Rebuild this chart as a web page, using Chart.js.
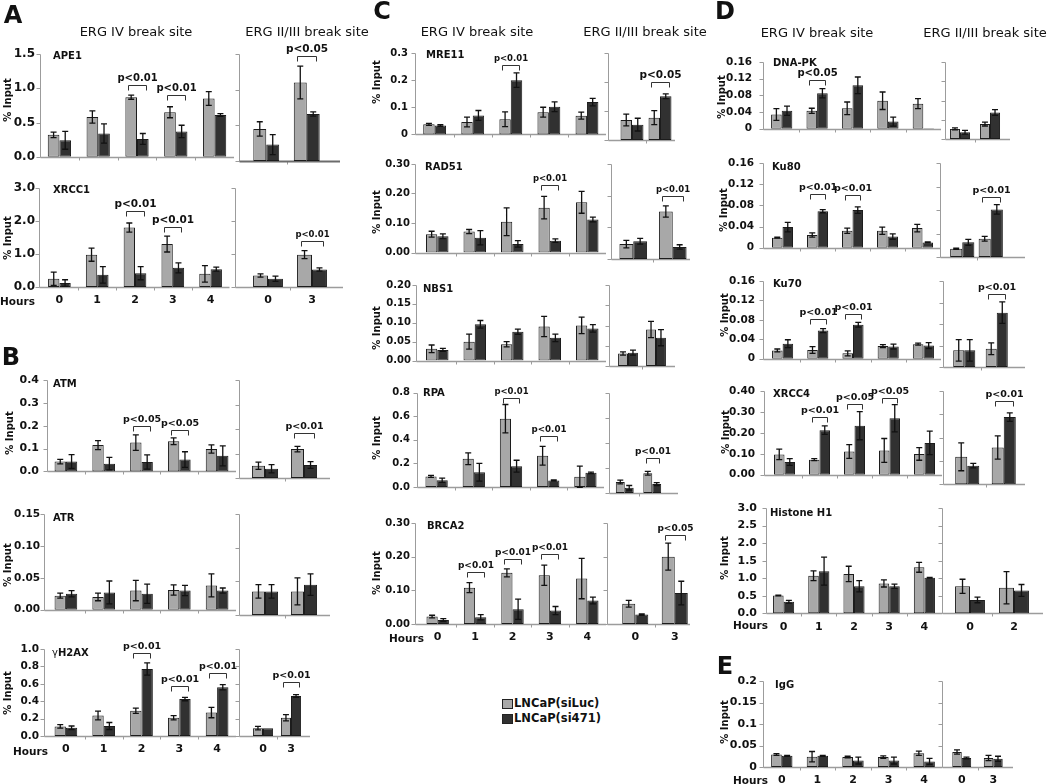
<!DOCTYPE html>
<html>
<head>
<meta charset="utf-8">
<script src="https://cdn.jsdelivr.net/npm/chart.js@4.4.1/dist/chart.umd.min.js"></script>
<style>
  body { margin: 0; background: #fff; }
  #fig { position: relative; width: 1050px; height: 784px; overflow: hidden; font-family: "DejaVu Sans", Verdana, sans-serif; color: #111; }
  #fig canvas { position: absolute; }
  .t { position: absolute; white-space: nowrap; line-height: 1; }
  .c { transform: translate(-50%, -50%); }
  .l { transform: translate(0, -50%); }
  .v { transform: translate(-50%, -50%) rotate(-90deg); font-weight: bold; font-size: 10px; }
  .letter { font-weight: bold; font-size: 24px; }
  .title { font-size: 13px; }
  .prot { font-weight: bold; font-size: 10px; }
  .hrs { font-weight: bold; font-size: 10.5px; }
  .leg { font-weight: bold; font-size: 11.5px; }
  .sw { position: absolute; width: 9px; height: 8px; border: 1px solid #222; }
</style>
</head>
<body>
<div id="fig"></div>
<script>
// categories: hours after treatment, ERG IV site (5) then ERG II/III site (2)
const hoursIV = ['0', '1', '2', '3', '4'];
const hoursII = ['0', '3'];
const hoursIIH1 = ['0', '2'];

// each series: 5 values for ERG IV, then 2 for ERG II/III
const APE1_luc    = [0.32, 0.58, 0.87, 0.65, 0.85, 0.45, 1.10];
const APE1_lucErr = [0.04, 0.09, 0.03, 0.08, 0.10, 0.10, 0.23];
const APE1_si     = [0.24, 0.34, 0.26, 0.37, 0.61, 0.23, 0.66];
const APE1_siErr  = [0.13, 0.14, 0.08, 0.09, 0.02, 0.14, 0.03];
const APE1_p      = [[2, 1.05, 'p<0.01'], [3, 0.90, 'p<0.01'], [6, 1.47, 'p<0.05']];
const APE1_ticks  = ['0.0', '0.5', '1.0', '1.5'];

const XRCC1_luc    = [0.25, 0.98, 1.80, 1.30, 0.40, 0.35, 0.98];
const XRCC1_lucErr = [0.20, 0.20, 0.14, 0.24, 0.25, 0.05, 0.12];
const XRCC1_si     = [0.12, 0.37, 0.42, 0.58, 0.54, 0.25, 0.53];
const XRCC1_siErr  = [0.10, 0.25, 0.20, 0.15, 0.06, 0.08, 0.05];
const XRCC1_p      = [[2, 2.30, 'p<0.01'], [3, 1.83, 'p<0.01'], [6, 1.40, 'p<0.01']];
const XRCC1_ticks  = ['0.0', '1.0', '2.0', '3.0'];

const ATM_luc    = [0.043, 0.115, 0.126, 0.132, 0.098, 0.050, 0.118];
const ATM_lucErr = [0.010, 0.020, 0.034, 0.015, 0.018, 0.015, 0.011];
const ATM_si     = [0.043, 0.034, 0.041, 0.052, 0.068, 0.038, 0.053];
const ATM_siErr  = [0.030, 0.027, 0.031, 0.034, 0.044, 0.017, 0.014];
const ATM_p      = [[2, 0.200, 'p<0.05'], [3, 0.183, 'p<0.05'], [6, 0.183, 'p<0.01']];
const ATM_ticks  = ['0.0', '0.1', '0.2', '0.3', '0.4'];

const ATR_luc    = [0.022, 0.020, 0.030, 0.031, 0.038, 0.035, 0.035];
const ATR_lucErr = [0.004, 0.006, 0.016, 0.008, 0.018, 0.010, 0.020];
const ATR_si     = [0.025, 0.027, 0.025, 0.030, 0.030, 0.035, 0.045];
const ATR_siErr  = [0.005, 0.018, 0.015, 0.008, 0.004, 0.010, 0.016];
const ATR_p      = [];
const ATR_ticks  = ['0.00', '0.05', '0.10', '0.15'];

const H2AX_luc    = [0.110, 0.235, 0.290, 0.210, 0.270, 0.090, 0.210];
const H2AX_lucErr = [0.020, 0.050, 0.030, 0.025, 0.060, 0.020, 0.035];
const H2AX_si     = [0.095, 0.115, 0.770, 0.425, 0.560, 0.090, 0.460];
const H2AX_siErr  = [0.020, 0.040, 0.070, 0.020, 0.030, 0.000, 0.015];
const H2AX_p      = [[2, 0.95, 'p<0.01'], [3, 0.57, 'p<0.01'], [4, 0.72, 'p<0.01'], [6, 0.62, 'p<0.01']];
const H2AX_ticks  = ['0.0', '0.2', '0.4', '0.6', '0.8', '1.0'];

const MRE11_luc    = [0.037, 0.046, 0.056, 0.082, 0.069, 0.069, 0.077];
const MRE11_lucErr = [0.004, 0.018, 0.027, 0.018, 0.013, 0.020, 0.024];
const MRE11_si     = [0.033, 0.070, 0.200, 0.102, 0.119, 0.053, 0.151];
const MRE11_siErr  = [0.003, 0.018, 0.027, 0.018, 0.014, 0.022, 0.008];
const MRE11_p      = [[2, 0.254, 'p<0.01'], [6, 0.200, 'p<0.05']];
const MRE11_ticks  = ['0', '0.1', '0.2', '0.3'];

const RAD51_luc    = [0.062, 0.071, 0.104, 0.152, 0.170, 0.047, 0.150];
const RAD51_lucErr = [0.010, 0.007, 0.047, 0.038, 0.037, 0.012, 0.018];
const RAD51_si     = [0.055, 0.050, 0.029, 0.040, 0.112, 0.056, 0.038];
const RAD51_siErr  = [0.008, 0.024, 0.011, 0.006, 0.008, 0.009, 0.007];
const RAD51_p      = [[3, 0.228, 'p<0.01'], [6, 0.200, 'p<0.01']];
const RAD51_ticks  = ['0.00', '0.10', '0.20', '0.30'];

const NBS1_luc    = [0.031, 0.050, 0.043, 0.090, 0.093, 0.031, 0.090];
const NBS1_lucErr = [0.010, 0.020, 0.007, 0.027, 0.022, 0.004, 0.020];
const NBS1_si     = [0.028, 0.096, 0.076, 0.060, 0.085, 0.033, 0.070];
const NBS1_siErr  = [0.004, 0.010, 0.007, 0.010, 0.010, 0.006, 0.020];
const NBS1_p      = [];
const NBS1_ticks  = ['0.00', '0.05', '0.10', '0.15', '0.20'];

const RPA_luc    = [0.090, 0.240, 0.580, 0.265, 0.087, 0.087, 0.158];
const RPA_lucErr = [0.008, 0.050, 0.120, 0.080, 0.090, 0.015, 0.015];
const RPA_si     = [0.057, 0.125, 0.177, 0.055, 0.120, 0.042, 0.071];
const RPA_siErr  = [0.018, 0.075, 0.050, 0.005, 0.006, 0.018, 0.012];
const RPA_p      = [[2, 0.755, 'p<0.01'], [3, 0.430, 'p<0.01'], [6, 0.276, 'p<0.01']];
const RPA_ticks  = ['0.0', '0.2', '0.4', '0.6', '0.8'];

const BRCA2_luc    = [0.022, 0.108, 0.152, 0.145, 0.135, 0.060, 0.200];
const BRCA2_lucErr = [0.004, 0.015, 0.012, 0.030, 0.060, 0.010, 0.040];
const BRCA2_si     = [0.012, 0.020, 0.044, 0.040, 0.070, 0.028, 0.092];
const BRCA2_siErr  = [0.004, 0.008, 0.030, 0.012, 0.010, 0.002, 0.035];
const BRCA2_p      = [[1, 0.154, 'p<0.01'], [2, 0.192, 'p<0.01'], [3, 0.207, 'p<0.01'], [6, 0.263, 'p<0.05']];
const BRCA2_ticks  = ['0.00', '0.10', '0.20', '0.30'];

const DNAPK_luc    = [0.034, 0.043, 0.049, 0.067, 0.060, 0.021, 0.031];
const DNAPK_lucErr = [0.014, 0.006, 0.015, 0.021, 0.012, 0.002, 0.004];
const DNAPK_si     = [0.043, 0.085, 0.104, 0.017, 0.001, 0.014, 0.055];
const DNAPK_siErr  = [0.011, 0.011, 0.020, 0.011, 0.000, 0.004, 0.006];
const DNAPK_p      = [[1, 0.116, 'p<0.05']];
const DNAPK_ticks  = ['0', '0.04', '0.08', '0.12', '0.16'];

const KU80_luc    = [0.019, 0.024, 0.032, 0.032, 0.037, 0.014, 0.031];
const KU80_lucErr = [0.001, 0.004, 0.005, 0.007, 0.007, 0.001, 0.004];
const KU80_si     = [0.039, 0.069, 0.071, 0.021, 0.010, 0.025, 0.081];
const KU80_siErr  = [0.009, 0.003, 0.006, 0.005, 0.001, 0.005, 0.008];
const KU80_p      = [[1, 0.102, 'p<0.01'], [2, 0.099, 'p<0.01'], [6, 0.102, 'p<0.01']];
const KU80_ticks  = ['0', '0.04', '0.08', '0.12', '0.16'];

const KU70_luc    = [0.017, 0.018, 0.011, 0.026, 0.030, 0.031, 0.034];
const KU70_lucErr = [0.003, 0.007, 0.005, 0.003, 0.002, 0.020, 0.011];
const KU70_si     = [0.031, 0.058, 0.070, 0.025, 0.027, 0.031, 0.101];
const KU70_siErr  = [0.008, 0.004, 0.005, 0.005, 0.006, 0.020, 0.020];
const KU70_p      = [[1, 0.082, 'p<0.01'], [2, 0.092, 'p<0.01'], [6, 0.136, 'p<0.01']];
const KU70_ticks  = ['0', '0.04', '0.08', '0.12', '0.16'];

const XRCC4_luc    = [0.097, 0.072, 0.111, 0.116, 0.099, 0.118, 0.158];
const XRCC4_lucErr = [0.025, 0.005, 0.033, 0.057, 0.030, 0.060, 0.050];
const XRCC4_si     = [0.061, 0.213, 0.234, 0.270, 0.152, 0.080, 0.288];
const XRCC4_siErr  = [0.016, 0.020, 0.067, 0.065, 0.056, 0.010, 0.018];
const XRCC4_p      = [[1, 0.274, 'p<0.01'], [2, 0.340, 'p<0.05'], [3, 0.367, 'p<0.05'], [6, 0.355, 'p<0.01']];
const XRCC4_ticks  = ['0.00', '0.10', '0.20', '0.30', '0.40'];

const H1_luc    = [0.51, 1.07, 1.12, 0.85, 1.31, 0.77, 0.73];
const H1_lucErr = [0.01, 0.14, 0.22, 0.10, 0.14, 0.20, 0.46];
const H1_si     = [0.33, 1.20, 0.77, 0.77, 1.01, 0.38, 0.65];
const H1_siErr  = [0.04, 0.40, 0.16, 0.06, 0.01, 0.08, 0.17];
const H1_p      = [];
const H1_ticks  = ['0.0', '0.5', '1.0', '1.5', '2.0', '2.5', '3.0'];

const IGG_luc    = [0.029, 0.024, 0.023, 0.023, 0.032, 0.035, 0.021];
const IGG_lucErr = [0.002, 0.012, 0.002, 0.003, 0.005, 0.005, 0.006];
const IGG_si     = [0.026, 0.026, 0.015, 0.015, 0.013, 0.021, 0.019];
const IGG_siErr  = [0.001, 0.001, 0.008, 0.008, 0.007, 0.002, 0.006];
const IGG_p      = [];
const IGG_ticks  = ['0', '0.05', '0.1', '0.15', '0.2'];

const FONT = '"DejaVu Sans", Verdana, sans-serif';
const LUC = '#a8a8a8', SI = '#313131', EDGE = '#1c1c1c', AXIS = '#9c9c9c';

// layout of each panel in page pixels
const panels = [
  { name: 'APE1', luc: APE1_luc, lucErr: APE1_lucErr, si: APE1_si, siErr: APE1_siErr, p: APE1_p, ticks: APE1_ticks,
    top: 54, zero: 161, tick: 12, gap: 5, pFont: [10, 10, 10.5],
    iv: { axis: 40, x0: 40, x1: 234 }, ii: { axis: 239, x0: 246, x1: 327, end: 340, cp: 0.64, heavy: true },
    label: [53, 56], inp: [8, 100] },
  { name: 'XRCC1', luc: XRCC1_luc, lucErr: XRCC1_lucErr, si: XRCC1_si, siErr: XRCC1_siErr, p: XRCC1_p, ticks: XRCC1_ticks,
    top: 188, zero: 287, tick: 12, gap: 4, pFont: [10.5, 10.5, 8.5], hours: [0, 301],
    iv: { axis: 39, x0: 40.5, x1: 229.5 }, ii: { axis: 235, x0: 246, x1: 334, end: 343, cp: 0.68 },
    label: [53, 190], inp: [8, 238] },
  { name: 'ATM', luc: ATM_luc, lucErr: ATM_lucErr, si: ATM_si, siErr: ATM_siErr, p: ATM_p, ticks: ATM_ticks,
    top: 380, zero: 478, tick: 11, gap: 8, pFont: [9.5, 9.5, 9.5],
    iv: { axis: 47, x0: 47, x1: 236 }, ii: { axis: 239, x0: 245.5, x1: 323.5, end: 330, cp: 0.67 },
    label: [53, 384], inp: [10, 433] },
  { name: 'ATR', luc: ATR_luc, lucErr: ATR_lucErr, si: ATR_si, siErr: ATR_siErr, p: ATR_p, ticks: ATR_ticks,
    top: 514, zero: 615, tick: 10.5, gap: 4, pFont: [],
    iv: { axis: 44, x0: 47, x1: 236 }, ii: { axis: 239, x0: 245.5, x1: 323.5, end: 330, cp: 0.67 },
    label: [53, 518], inp: [8, 565] },
  { name: '<span style="font-weight:normal">γ</span>H2AX', luc: H2AX_luc, lucErr: H2AX_lucErr, si: H2AX_si, siErr: H2AX_siErr, p: H2AX_p, ticks: H2AX_ticks,
    top: 649, zero: 736, tick: 10.5, gap: 5, pFont: [9.5, 9.5, 9.5, 9.5], hours: [13, 751],
    iv: { axis: 44, x0: 47, x1: 236 }, ii: { axis: 239, x0: 249, x1: 305, end: 310, cp: 0.72 },
    label: [52, 653], inp: [8, 693] },
  { name: 'MRE11', luc: MRE11_luc, lucErr: MRE11_lucErr, si: MRE11_si, siErr: MRE11_siErr, p: MRE11_p, ticks: MRE11_ticks,
    top: 53, zero: 140, tick: 10, gap: 7, pFont: [8.5, 10.5],
    iv: { axis: 415, x0: 415.6, x1: 606 }, ii: { axis: 608, x0: 618, x1: 674, end: 675, cp: 0.82 },
    label: [426, 55], inp: [377, 82] },
  { name: 'RAD51', luc: RAD51_luc, lucErr: RAD51_lucErr, si: RAD51_si, siErr: RAD51_siErr, p: RAD51_p, ticks: RAD51_ticks,
    top: 164, zero: 259, tick: 10, gap: 5, pFont: [8.5, 8.5],
    iv: { axis: 415, x0: 418.5, x1: 606 }, ii: { axis: 611, x0: 613.5, x1: 692.5, end: 690, cp: 0.7 },
    label: [425, 167], inp: [377, 212] },
  { name: 'NBS1', luc: NBS1_luc, lucErr: NBS1_lucErr, si: NBS1_si, siErr: NBS1_siErr, p: NBS1_p, ticks: NBS1_ticks,
    top: 285, zero: 366, tick: 10, gap: 5, pFont: [],
    iv: { axis: 416, x0: 418.5, x1: 606 }, ii: { axis: 609, x0: 614, x1: 670, end: 675, cp: 0.71 },
    label: [423, 289], inp: [377, 328] },
  { name: 'RPA', luc: RPA_luc, lucErr: RPA_lucErr, si: RPA_si, siErr: RPA_siErr, p: RPA_p, ticks: RPA_ticks,
    top: 392.7, zero: 493, tick: 10, gap: 7, pFont: [8.5, 8.7, 9],
    iv: { axis: 417, x0: 418, x1: 604 }, ii: { axis: 609, x0: 611, x1: 666, end: 678, cp: 0.65 },
    label: [423, 393], inp: [377, 438] },
  { name: 'BRCA2', luc: BRCA2_luc, lucErr: BRCA2_lucErr, si: BRCA2_si, siErr: BRCA2_siErr, p: BRCA2_p, ticks: BRCA2_ticks,
    top: 523, zero: 624, tick: 10, gap: 5, pFont: [9, 9, 9, 9], hours: [389, 638],
    iv: { axis: 415, x0: 419, x1: 606 }, ii: { axis: 607, x0: 615.5, x1: 694.5, end: 690, cp: 0.66 },
    label: [427, 526], inp: [377, 573] },
  { name: 'DNA-PK', luc: DNAPK_luc, lucErr: DNAPK_lucErr, si: DNAPK_si, siErr: DNAPK_siErr, p: DNAPK_p, ticks: DNAPK_ticks,
    top: 62, zero: 139, tick: 10.5, gap: 11, pFont: [10],
    iv: { axis: 763, x0: 764, x1: 941 }, ii: { axis: 945, x0: 945, x1: 1005, end: 1010, cp: 0.67 },
    label: [773, 63], inp: [722, 97] },
  { name: 'Ku80', luc: KU80_luc, lucErr: KU80_lucErr, si: KU80_si, siErr: KU80_siErr, p: KU80_p, ticks: KU80_ticks,
    top: 163, zero: 257, tick: 10.5, gap: 9, pFont: [9.5, 9.5, 9.5],
    iv: { axis: 763, x0: 765, x1: 940 }, ii: { axis: 940, x0: 948, x1: 1005, end: 1025, cp: 0.85 },
    label: [772, 167], inp: [724, 210] },
  { name: 'Ku70', luc: KU70_luc, lucErr: KU70_lucErr, si: KU70_si, siErr: KU70_siErr, p: KU70_p, ticks: KU70_ticks,
    top: 281, zero: 367, tick: 10.5, gap: 8, pFont: [9.5, 9.5, 9.5],
    iv: { axis: 763, x0: 765, x1: 941 }, ii: { axis: 943, x0: 948, x1: 1013, end: 1025, cp: 0.68 },
    label: [773, 284], inp: [725, 315] },
  { name: 'XRCC4', luc: XRCC4_luc, lucErr: XRCC4_lucErr, si: XRCC4_si, siErr: XRCC4_siErr, p: XRCC4_p, ticks: XRCC4_ticks,
    top: 391, zero: 484.3, tick: 10.5, gap: 9, pFont: [9.5, 9.5, 9.5, 9.5],
    iv: { axis: 764, x0: 767, x1: 942 }, ii: { axis: 943, x0: 949, x1: 1022, end: 1025, cp: 0.66 },
    label: [773, 394], inp: [726, 432] },
  { name: 'Histone H1', luc: H1_luc, lucErr: H1_lucErr, si: H1_si, siErr: H1_siErr, p: H1_p, ticks: H1_ticks,
    top: 508, zero: 613.3, tick: 11, gap: 9, pFont: [], hours: [733, 625], hoursII: hoursIIH1,
    iv: { axis: 766, x0: 766, x1: 942 }, ii: { axis: 942, x0: 948, x1: 1036, end: 1043, cp: 0.68 },
    label: [770, 513], inp: [725, 558] },
  { name: 'IgG', luc: IGG_luc, lucErr: IGG_lucErr, si: IGG_si, siErr: IGG_siErr, p: IGG_p, ticks: IGG_ticks,
    top: 681, zero: 767, tick: 11, gap: 6, pFont: [], hours: [733, 780],
    iv: { axis: 763, x0: 764, x1: 942 }, ii: { axis: 942, x0: 946, x1: 1009, end: 1013, cp: 0.6 },
    label: [775, 685], inp: [725, 722] }
];

// axes, error bars and significance brackets
const decor = {
  id: 'decor',
  beforeDatasetsDraw(chart) {
    const d = chart.canvas.decor;
    if (!d) return;
    const ctx = chart.ctx, y = chart.scales.y, x = chart.scales.x;
    const zero = Math.round(y.getPixelForValue(0)) + 0.5;
    const top = Math.round(y.getPixelForValue(d.ticks[d.ticks.length - 1])) + 0.5;
    ctx.save();
    ctx.strokeStyle = AXIS;
    ctx.lineWidth = 1;
    ctx.beginPath();
    const ax = Math.round(d.axis) + 0.5;
    ctx.moveTo(ax, top); ctx.lineTo(ax, zero);
    d.ticks.forEach(t => {
      const py = Math.round(y.getPixelForValue(t)) + 0.5;
      ctx.moveTo(ax - 4, py); ctx.lineTo(ax, py);
    });
    // small marks between categories
    const n = x.ticks.length;
    for (let i = 1; i < n; i++) {
      const px = Math.round((x.getPixelForTick(i - 1) + x.getPixelForTick(i)) / 2) + 0.5;
      ctx.moveTo(px, zero); ctx.lineTo(px, zero + 3);
    }
    ctx.stroke();
    ctx.lineWidth = d.heavy ? 2.2 : 1.3;
    ctx.strokeStyle = d.heavy ? '#6c6c6c' : AXIS;
    ctx.beginPath();
    ctx.moveTo(ax, zero); ctx.lineTo(d.end, zero);
    ctx.stroke();
    ctx.restore();
  },
  afterDatasetsDraw(chart) {
    const d = chart.canvas.decor;
    if (!d) return;
    const ctx = chart.ctx, y = chart.scales.y;
    ctx.save();
    ctx.strokeStyle = '#111';
    ctx.lineWidth = 1.3;
    ctx.beginPath();
    chart.data.datasets.forEach((ds, di) => {
      chart.getDatasetMeta(di).data.forEach((bar, j) => {
        const e = d.errs[di][j];
        if (!e) return;
        const v = ds.data[j];
        const yt = y.getPixelForValue(v + e), yb = y.getPixelForValue(v - e);
        ctx.moveTo(bar.x, yt); ctx.lineTo(bar.x, yb);
        ctx.moveTo(bar.x - 3, yt); ctx.lineTo(bar.x + 3, yt);
        ctx.moveTo(bar.x - 3, yb); ctx.lineTo(bar.x + 3, yb);
      });
    });
    ctx.stroke();
    ctx.strokeStyle = '#333';
    ctx.lineWidth = 1;
    ctx.fillStyle = '#111';
    ctx.textAlign = 'center';
    ctx.textBaseline = 'bottom';
    d.brackets.forEach((b, k) => {
      const a = chart.getDatasetMeta(0).data[b[0]], c = chart.getDatasetMeta(1).data[b[0]];
      const bw = a.width;
      const x1 = Math.round(a.x - 0.25 * bw) + 0.5, x2 = Math.round(c.x + 0.25 * bw) + 0.5;
      const py = Math.round(y.getPixelForValue(b[1])) + 0.5;
      ctx.beginPath();
      ctx.moveTo(x1, py + 5); ctx.lineTo(x1, py); ctx.lineTo(x2, py); ctx.lineTo(x2, py + 5);
      ctx.stroke();
      ctx.font = 'bold ' + d.fonts[k] + 'px ' + FONT;
      ctx.fillText(b[2], (x1 + x2) / 2, py - 2);
    });
    ctx.restore();
  }
};
Chart.register(decor);

const fig = document.getElementById('fig');

function text(html, x, y, cls) {
  const el = document.createElement('div');
  el.className = 't ' + cls;
  el.style.left = x + 'px';
  el.style.top = y + 'px';
  el.innerHTML = html;
  fig.appendChild(el);
}

function build(p, part) {
  const g = p[part], iv = part === 'iv';
  const idx = iv ? [0, 1, 2, 3, 4] : [5, 6];
  const end = g.end || g.x1;
  const cl = Math.floor(iv ? g.axis - 44 : g.axis - 6);
  const ct = Math.floor(p.top - 28);
  const padB = p.hours ? 24 : 8;
  const W = Math.ceil(end + 16 - cl), H = Math.ceil(p.zero + padB - ct);
  const cv = document.createElement('canvas');
  cv.width = W; cv.height = H;
  cv.style.left = cl + 'px'; cv.style.top = ct + 'px';
  cv.style.width = W + 'px'; cv.style.height = H + 'px';
  fig.appendChild(cv);
  const vals = p.ticks.map(Number);
  const keep = p.p.map((b, k) => k).filter(k => iv ? p.p[k][0] < 5 : p.p[k][0] >= 5);
  cv.decor = {
    axis: g.axis - cl, end: end - cl, heavy: !!g.heavy, ticks: vals,
    errs: [idx.map(i => p.lucErr[i]), idx.map(i => p.siErr[i])],
    brackets: keep.map(k => [p.p[k][0] - (iv ? 0 : 5), p.p[k][1], p.p[k][2]]),
    fonts: keep.map(k => p.pFont[k])
  };
  const cp = iv ? 0.6 : g.cp;
  new Chart(cv, {
    type: 'bar',
    data: {
      labels: iv ? hoursIV : (p.hoursII || hoursII),
      datasets: [
        { label: 'LNCaP(siLuc)', data: idx.map(i => p.luc[i]), backgroundColor: LUC, borderColor: EDGE,
          borderWidth: 1, borderSkipped: false, categoryPercentage: cp, barPercentage: 1 },
        { label: 'LNCaP(si471)', data: idx.map(i => p.si[i]), backgroundColor: SI, borderColor: EDGE,
          borderWidth: 1, borderSkipped: false, categoryPercentage: cp, barPercentage: 1 }
      ]
    },
    options: {
      responsive: false,
      animation: false,
      events: [],
      layout: { padding: { top: p.top - ct, right: cl + W - g.x1, left: 0, bottom: 0 } },
      plugins: { legend: { display: false }, tooltip: { enabled: false } },
      scales: {
        x: {
          type: 'category', offset: true,
          grid: { display: false, drawTicks: false }, border: { display: false },
          ticks: { display: !!p.hours, font: { family: FONT, size: 11, weight: 'bold' }, color: '#111',
                   padding: 7, maxRotation: 0, autoSkip: false },
          afterFit: s => { s.height = ct + H - p.zero; }
        },
        y: {
          min: 0, max: vals[vals.length - 1],
          grid: { display: false, drawTicks: false }, border: { display: false },
          ticks: { display: iv, font: { family: FONT, size: p.tick, weight: 'bold' }, color: '#111',
                   padding: g.x0 - g.axis + p.gap, callback: (v, i) => p.ticks[i] },
          afterBuildTicks: s => { s.ticks = vals.map(v => ({ value: v })); },
          afterFit: s => { s.width = g.x0 - cl; }
        }
      }
    }
  });
}

panels.forEach(p => {
  build(p, 'iv');
  build(p, 'ii');
  text(p.name, p.label[0], p.label[1], 'l prot');
  text('% Input', p.inp[0], p.inp[1], 'v');
  if (p.hours) text('Hours', p.hours[0], p.hours[1], 'l hrs');
});

// panel letters and headings
text('A', 13, 15, 'c letter');
text('B', 11, 357, 'c letter');
text('C', 382, 11, 'c letter');
text('D', 725, 11, 'c letter');
text('E', 725, 666, 'c letter');
text('ERG IV break site', 136, 31, 'c title');
text('ERG II/III break site', 307, 31, 'c title');
text('ERG IV break site', 477, 31, 'c title');
text('ERG II/III break site', 645, 31, 'c title');
text('ERG IV break site', 817, 32, 'c title');
text('ERG II/III break site', 985, 32, 'c title');

// legend
[[LUC, 699], [SI, 714]].forEach(([col, top]) => {
  const sw = document.createElement('div');
  sw.className = 'sw';
  sw.style.left = '502px';
  sw.style.top = top + 'px';
  sw.style.background = col;
  fig.appendChild(sw);
});
text('LNCaP(siLuc)', 514, 704, 'l leg');
text('LNCaP(si471)', 514, 719, 'l leg');
</script>
</body>
</html>
